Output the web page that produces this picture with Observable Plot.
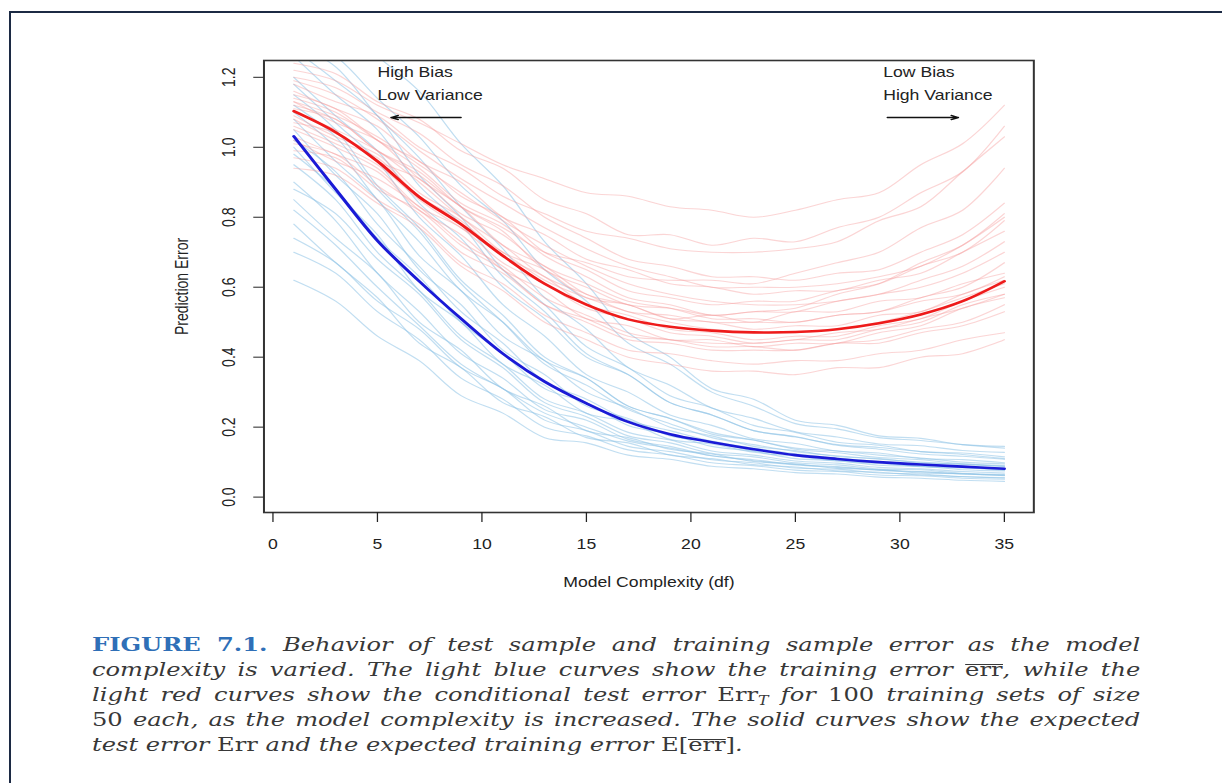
<!DOCTYPE html>
<html>
<head>
<meta charset="utf-8">
<script src="https://cdn.jsdelivr.net/npm/d3@7"></script>
<script src="https://cdn.jsdelivr.net/npm/@observablehq/plot@0.6"></script>
<style>
html,body{margin:0;padding:0;background:#fff;width:1222px;height:783px;overflow:hidden;}
#frame{position:absolute;left:9px;top:11px;width:1300px;height:900px;border-left:2px solid #1c2a44;border-top:2px solid #1c2a44;}
#stage{position:absolute;left:0;top:0;width:970px;height:783px;transform:scaleX(1.26);transform-origin:0 0;}
#chart{position:absolute;left:0;top:0;}
#caption{position:absolute;left:73px;top:632px;width:832px;font-family:"DejaVu Serif",serif;font-size:19.2px;line-height:25px;color:#383838;font-style:italic;}
#caption div{height:25px;}
#caption .ln{white-space:nowrap;text-align:justify;text-align-last:justify;}
#caption .last{white-space:nowrap;text-align:left;}
#caption .fig{color:#2f6fb7;font-weight:bold;font-style:normal;}
#caption .rm{font-style:normal;}
#caption .ov{font-style:normal;position:relative;}
#caption .ov::before{content:"";position:absolute;left:0;right:0;top:0.3em;border-top:1.3px solid currentColor;}
#caption sub{font-style:italic;font-size:12.5px;line-height:0;vertical-align:-4px;}
</style>
</head>
<body>
<div id="frame"></div>
<div id="stage">
  <div id="chart"></div>
  <div id="caption">
    <div class="ln"><span class="fig">FIGURE 7.1.</span> Behavior of test sample and training sample error as the model</div>
    <div class="ln">complexity is varied. The light blue curves show the training error <span class="ov">err</span>, while the</div>
    <div class="ln">light red curves show the conditional test error <span class="rm">Err<sub>T</sub></span> for <span class="rm">100</span> training sets of size</div>
    <div class="ln"><span class="rm">50</span> each, as the model complexity is increased. The solid curves show the expected</div>
    <div class="last">test error <span class="rm">Err</span> and the expected training error <span class="rm">E[<span class="ov">err</span>]</span>.</div>
  </div>
</div>
<script>
// model complexity (df) sample points
const xs = [1,3,5,7,9,11,13,15,17,19,21,23,25,27,29,31,33,35];

// expected test error (solid red) and expected training error (solid blue)
const testMean  = [1.103,1.043,0.960,0.858,0.780,0.690,0.610,0.550,0.508,0.487,0.476,0.471,0.472,0.480,0.497,0.522,0.560,0.617];
const trainMean = [1.031,0.880,0.733,0.617,0.510,0.410,0.330,0.268,0.215,0.180,0.157,0.137,0.120,0.109,0.100,0.093,0.087,0.081];

// conditional test error curves (light red), one array per training set
const testCurves = [
  [1.22,1.19,1.12,1.07,1.01,0.95,0.91,0.87,0.86,0.83,0.82,0.80,0.82,0.85,0.87,0.95,1.01,1.12],
  [1.18,1.13,1.09,1.00,0.94,0.86,0.81,0.76,0.74,0.71,0.70,0.70,0.71,0.73,0.79,0.83,0.93,1.03],
  [1.12,1.08,0.99,0.92,0.83,0.77,0.70,0.67,0.63,0.62,0.62,0.61,0.64,0.67,0.70,0.77,0.82,0.94],
  [1.05,1.00,0.94,0.83,0.77,0.67,0.61,0.54,0.51,0.47,0.46,0.44,0.45,0.45,0.48,0.50,0.55,0.58],
  [0.97,0.94,0.85,0.78,0.67,0.61,0.52,0.47,0.42,0.41,0.39,0.38,0.39,0.39,0.41,0.42,0.45,0.47],
  [1.10,1.05,0.99,0.90,0.80,0.72,0.63,0.58,0.53,0.52,0.50,0.50,0.50,0.52,0.53,0.57,0.60,0.67],
  [1.15,1.11,1.02,0.94,0.84,0.78,0.69,0.63,0.57,0.55,0.52,0.53,0.53,0.56,0.58,0.62,0.66,0.73],
  [1.08,1.02,0.97,0.86,0.79,0.69,0.63,0.55,0.52,0.48,0.47,0.45,0.46,0.46,0.49,0.51,0.56,0.60],
  [1.01,0.98,0.89,0.81,0.70,0.64,0.55,0.50,0.45,0.44,0.42,0.42,0.42,0.44,0.44,0.47,0.49,0.53],
  [1.20,1.17,1.10,1.04,0.95,0.89,0.80,0.74,0.68,0.66,0.63,0.63,0.62,0.64,0.65,0.70,0.75,0.84],
  [1.13,1.07,1.02,0.91,0.83,0.72,0.66,0.58,0.55,0.51,0.50,0.48,0.49,0.49,0.52,0.53,0.58,0.62],
  [0.94,0.92,0.84,0.77,0.66,0.59,0.50,0.45,0.40,0.38,0.36,0.36,0.35,0.37,0.37,0.40,0.41,0.45],
  [1.07,1.04,0.96,0.91,0.81,0.75,0.66,0.61,0.56,0.54,0.51,0.51,0.50,0.52,0.53,0.56,0.58,0.63],
  [1.16,1.11,1.06,0.96,0.90,0.80,0.75,0.68,0.65,0.61,0.60,0.58,0.59,0.59,0.62,0.64,0.70,0.76],
  [1.03,0.98,0.93,0.82,0.75,0.65,0.59,0.51,0.49,0.45,0.45,0.43,0.44,0.44,0.47,0.49,0.54,0.57],
  [1.11,1.08,0.99,0.93,0.83,0.76,0.65,0.60,0.55,0.54,0.52,0.53,0.54,0.58,0.61,0.67,0.72,0.81],
  [1.09,1.03,0.98,0.87,0.80,0.70,0.65,0.57,0.55,0.51,0.52,0.50,0.53,0.53,0.56,0.57,0.61,0.64],
  [1.24,1.21,1.13,1.08,0.99,0.94,0.85,0.81,0.75,0.75,0.72,0.74,0.73,0.77,0.80,0.87,0.93,1.06],
  [0.99,0.97,0.88,0.82,0.72,0.65,0.55,0.51,0.46,0.45,0.43,0.43,0.42,0.44,0.45,0.48,0.50,0.55],
  [1.14,1.10,1.02,0.96,0.86,0.80,0.70,0.65,0.59,0.57,0.55,0.56,0.56,0.59,0.61,0.66,0.70,0.79],
  [1.06,1.01,0.95,0.85,0.77,0.70,0.62,0.57,0.53,0.50,0.48,0.47,0.47,0.48,0.50,0.53,0.57,0.61],
  [1.19,1.15,1.08,0.99,0.91,0.84,0.77,0.71,0.66,0.63,0.60,0.60,0.60,0.61,0.63,0.66,0.72,0.80],
  [1.02,0.96,0.91,0.83,0.73,0.66,0.57,0.52,0.47,0.45,0.44,0.44,0.45,0.47,0.48,0.51,0.54,0.58],
  [1.13,1.09,1.03,0.95,0.87,0.79,0.72,0.66,0.61,0.58,0.56,0.55,0.55,0.56,0.58,0.60,0.64,0.70]
];

// training error curves (light blue), one array per training set
const trainCurves = [
  [1.32,1.26,1.14,1.03,0.89,0.79,0.65,0.56,0.44,0.38,0.30,0.26,0.21,0.195,0.17,0.162,0.15,0.14],
  [1.20,1.09,0.99,0.84,0.74,0.60,0.51,0.40,0.35,0.27,0.235,0.19,0.172,0.15,0.142,0.13,0.122,0.11],
  [1.10,1.00,0.85,0.73,0.59,0.50,0.39,0.34,0.26,0.225,0.185,0.163,0.14,0.132,0.12,0.112,0.10,0.095],
  [1.00,0.87,0.75,0.59,0.50,0.38,0.32,0.24,0.215,0.165,0.152,0.128,0.117,0.103,0.096,0.087,0.083,0.077],
  [0.90,0.79,0.64,0.53,0.41,0.34,0.25,0.22,0.165,0.145,0.118,0.107,0.093,0.087,0.077,0.073,0.066,0.062],
  [0.78,0.67,0.57,0.44,0.37,0.27,0.23,0.17,0.155,0.12,0.11,0.093,0.086,0.075,0.071,0.063,0.059,0.054],
  [0.62,0.56,0.46,0.39,0.29,0.24,0.17,0.155,0.12,0.108,0.088,0.081,0.07,0.066,0.057,0.054,0.048,0.045],
  [1.26,1.15,1.05,0.89,0.78,0.63,0.53,0.41,0.35,0.27,0.235,0.19,0.173,0.148,0.137,0.123,0.117,0.108],
  [1.15,1.05,0.89,0.77,0.62,0.52,0.40,0.34,0.26,0.225,0.18,0.163,0.137,0.127,0.113,0.107,0.095,0.09],
  [1.05,0.92,0.81,0.65,0.55,0.42,0.35,0.26,0.225,0.175,0.158,0.132,0.122,0.106,0.10,0.088,0.085,0.078],
  [0.95,0.85,0.70,0.59,0.46,0.38,0.28,0.24,0.185,0.163,0.132,0.12,0.103,0.097,0.085,0.081,0.073,0.069],
  [0.85,0.74,0.64,0.50,0.42,0.31,0.26,0.19,0.17,0.137,0.123,0.102,0.095,0.082,0.079,0.069,0.067,0.061],
  [0.70,0.64,0.53,0.45,0.34,0.28,0.20,0.175,0.135,0.121,0.098,0.09,0.077,0.073,0.063,0.061,0.054,0.051],
  [1.30,1.23,1.09,0.97,0.83,0.71,0.57,0.48,0.37,0.32,0.255,0.225,0.187,0.172,0.152,0.147,0.133,0.128],
  [1.08,0.96,0.85,0.69,0.59,0.46,0.39,0.30,0.255,0.20,0.175,0.145,0.133,0.116,0.11,0.098,0.095,0.087],
  [0.98,0.88,0.74,0.63,0.50,0.41,0.31,0.27,0.205,0.18,0.145,0.131,0.11,0.104,0.091,0.088,0.078,0.075],
  [1.18,1.07,0.96,0.80,0.69,0.55,0.46,0.35,0.30,0.235,0.205,0.167,0.153,0.132,0.126,0.11,0.107,0.098],
  [0.88,0.81,0.68,0.58,0.45,0.37,0.27,0.23,0.175,0.155,0.125,0.115,0.098,0.092,0.08,0.078,0.068,0.065],
  [1.28,1.19,1.09,0.92,0.80,0.65,0.55,0.43,0.37,0.29,0.255,0.205,0.185,0.157,0.148,0.13,0.126,0.115],
  [0.74,0.67,0.56,0.48,0.37,0.31,0.22,0.19,0.145,0.13,0.107,0.098,0.083,0.08,0.069,0.066,0.058,0.056],
  [1.40,1.36,1.26,1.16,1.01,0.89,0.73,0.61,0.47,0.40,0.31,0.28,0.22,0.205,0.175,0.168,0.15,0.145],
  [1.02,0.93,0.78,0.66,0.53,0.44,0.33,0.28,0.22,0.19,0.16,0.14,0.124,0.112,0.102,0.095,0.088,0.083],
  [0.82,0.72,0.60,0.49,0.38,0.31,0.24,0.20,0.16,0.14,0.118,0.104,0.092,0.085,0.077,0.072,0.066,0.063],
  [1.12,1.03,0.88,0.76,0.61,0.50,0.38,0.32,0.25,0.21,0.17,0.15,0.13,0.118,0.108,0.10,0.093,0.088]
];

// axis ticks
const xTicks = [0,5,10,15,20,25,30,35];
const yTicks = [0,0.2,0.4,0.6,0.8,1.0,1.2];

// annotations
const annText = ["High Bias","Low Variance","Low Bias","High Variance"];
const annX = [5,5,29.2,29.2];
const annY = [1.213,1.148,1.213,1.148];
const arrowFrom = [9.0,29.4];
const arrowTo = [5.65,32.8];
const arrowY = [1.085,1.085];

function toRows(curves){
  const rows = [];
  curves.forEach((c,i)=>c.forEach((v,j)=>rows.push({x:xs[j], y:v, id:i})));
  return rows;
}
const trainRows = toRows(trainCurves);
const testRows = toRows(testCurves);
const testMeanRows = xs.map((x,i)=>({x, y:testMean[i]}));
const trainMeanRows = xs.map((x,i)=>({x, y:trainMean[i]}));

const chart = Plot.plot({
  width: 970,
  height: 600,
  marginLeft: 209,
  marginRight: 150,
  marginTop: 60,
  marginBottom: 88,
  x: {domain: [-0.43, 36.41]},
  y: {domain: [-0.044, 1.248]},
  style: {fontFamily: "'Liberation Sans', Arial, sans-serif", fontSize: "14px", color: "#222", background: "transparent"},
  marks: [
    Plot.line(trainRows, {x:"x", y:"y", z:"id", stroke:"#8ec3e6", strokeOpacity:0.55, strokeWidth:1.1, curve:"catmull-rom", clip:true}),
    Plot.line(testRows, {x:"x", y:"y", z:"id", stroke:"#f69a9a", strokeOpacity:0.42, strokeWidth:1.1, curve:"catmull-rom", clip:true}),
    Plot.line(testMeanRows, {x:"x", y:"y", stroke:"#ee1b1b", strokeWidth:2.6, curve:"catmull-rom"}),
    Plot.line(trainMeanRows, {x:"x", y:"y", stroke:"#1a1ad6", strokeWidth:2.6, curve:"catmull-rom"}),
    Plot.frame({stroke:"#333", strokeWidth:1.6}),
    Plot.axisX({ticks: xTicks, tickSize: 10, tickPadding: 17, fontSize: 14, label: "Model Complexity (df)", labelAnchor: "center", labelArrow: "none", labelOffset: 74}),
    Plot.axisY({ticks: yTicks, tickSize: 8, tickPadding: 15, tickRotate: -90, fontSize: 14, tickFormat: d3.format(".1f"), label: "Prediction Error", labelAnchor: "center", labelArrow: "none", labelOffset: 70}),
    Plot.text(annText, {x: annX, y: annY, text: annText, textAnchor: "start", fontSize: 14, fill: "#222"}),
    Plot.arrow(arrowFrom, {x1: arrowFrom, y1: arrowY, x2: arrowTo, y2: arrowY, stroke: "#111", strokeWidth: 1.3, headLength: 7, headAngle: 40})
  ]
});
document.getElementById("chart").appendChild(chart);
</script>
</body>
</html>
